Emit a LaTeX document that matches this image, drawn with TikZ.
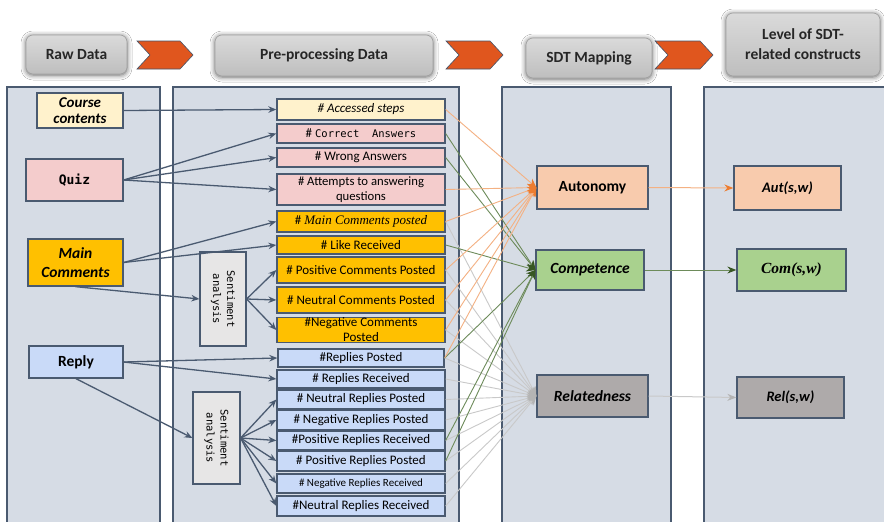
\documentclass[tikz,border=0pt]{standalone}
\usepackage{fontspec}
\setmainfont{Carlito}
\newfontfamily\monofont{DejaVu Sans Mono}
\newfontfamily\timesfont{Liberation Serif}
\usetikzlibrary{arrows.meta,shadows.blur}
\definecolor{panelfill}{HTML}{D6DCE5}
\definecolor{border}{HTML}{4A5A70}
\definecolor{hdrtop}{HTML}{DADADA}
\definecolor{hdrbot}{HTML}{BEBEBE}
\definecolor{hdrborder}{HTML}{A0A0A0}
\definecolor{chevfill}{HTML}{E0561E}
\definecolor{chevborder}{HTML}{44546A}
\definecolor{cream}{HTML}{FFF2CC}
\definecolor{pinkq}{HTML}{F4CCCC}
\definecolor{amber}{HTML}{FFC000}
\definecolor{lblue}{HTML}{C9DAF8}
\definecolor{sentfill}{HTML}{E7E6E6}
\definecolor{autfill}{HTML}{F8CBAD}
\definecolor{comfill}{HTML}{A9D18E}
\definecolor{relfill}{HTML}{AEAAAA}
\definecolor{oline}{HTML}{F4B183}
\definecolor{otip}{HTML}{ED7D31}
\definecolor{gline}{HTML}{6D8B5A}
\definecolor{gtip}{HTML}{385723}
\definecolor{rline}{HTML}{C9C9C9}
\definecolor{rtip}{HTML}{B4B4B4}
\begin{document}
\begin{tikzpicture}[x=1pt,y=-1pt,
  hdr/.style={draw=hdrborder, line width=0.6pt, rounded corners=7pt, top color=hdrtop, bottom color=hdrbot,
    font=\fontsize{15.5}{20}\selectfont\bfseries, text=black!85, align=center, inner sep=0pt,
    blur shadow={shadow xshift=0pt, shadow yshift=-1pt, shadow blur radius=5pt, shadow opacity=65}},
  chevron/.style={fill=chevfill, draw=chevborder, line width=0.6pt},
  panel/.style={fill=panelfill, draw=border, line width=1.2pt},
  bx/.style={draw=border, line width=1.3pt, inner sep=0pt, align=center, text=black},
  mid/.style={bx, minimum width=168pt, font=\fontsize{13}{14}\selectfont},
  lft/.style={bx, font=\fontsize{15.5}{17}\selectfont\bfseries},
  con/.style={bx, font=\fontsize{15.5}{17}\selectfont\bfseries},
  sbox/.style={bx, fill=sentfill, line width=1.2pt},
  stext/.style={rotate=-90, align=center, font=\monofont\fontsize{10.5}{14}\selectfont},
  feed/.style={draw=border, line width=1.3pt, -{Stealth[length=8pt,width=6.5pt]}},
  mapo/.style={draw=oline, line width=0.9pt, -{Stealth[length=9pt,width=8pt,color=otip]}},
  mapg/.style={draw=gline, line width=0.9pt, -{Stealth[length=9pt,width=8pt,color=gtip]}},
  mapr/.style={draw=rline, line width=0.9pt, -{Stealth[length=9pt,width=8pt,color=rtip]}},
  reso/.style={draw=oline, line width=1pt, -{Stealth[length=9pt,width=7pt,color=otip]}},
  resg/.style={draw=gline, line width=1pt, -{Stealth[length=9pt,width=7pt,color=gtip]}},
  resr/.style={draw=rline, line width=1pt, -{Stealth[length=9pt,width=7pt,color=rtip]}}
]
\fill[white] (0,0) rectangle (884,522);
\useasboundingbox (0,0) rectangle (884,522);

% header row
\node[hdr, minimum width=101pt, minimum height=39pt] (h1) at (76.5,54.5) {Raw Data};
\node[hdr, minimum width=218pt, minimum height=41pt] (h2) at (324,55.5) {Pre-processing Data};
\node[hdr, minimum width=126pt, minimum height=40pt] (h3) at (589,58) {SDT Mapping};
\node[hdr, minimum width=154pt, minimum height=63pt] (h4) at (803,44.5) {Level of SDT-\\related constructs};
\draw[chevron] (137,41) -- (180,41) -- (193,55) -- (180,69) -- (137,69) -- (150,55) -- cycle;
\draw[chevron] (446,41) -- (490,41) -- (503,55) -- (490,69) -- (446,69) -- (459,55) -- cycle;
\draw[chevron] (655,41) -- (700,41) -- (713,55) -- (700,69) -- (655,69) -- (668,55) -- cycle;

% panels
\draw[panel] (7,87) rectangle (160,530);
\draw[panel] (173,87) rectangle (459,530);
\draw[panel] (502,87) rectangle (671,530);
\draw[panel] (704,87) rectangle (900,530);

% raw data
\node[lft, fill=cream, minimum width=86pt, minimum height=35pt, font=\fontsize{15}{16.5}\selectfont\bfseries\itshape] (cc) at (80,110.5) {Course\\contents};
\node[lft, fill=pinkq, minimum width=97pt, minimum height=42pt, font=\monofont\fontsize{13}{15}\selectfont\bfseries] (quiz) at (74.5,180) {Quiz};
\node[lft, fill=amber, minimum width=95pt, minimum height=47pt, font=\fontsize{15.5}{19}\selectfont\bfseries\itshape] (mc) at (75.5,262.5) {Main\\Comments};
\node[lft, fill=lblue, minimum width=94pt, minimum height=32pt] (rep) at (76,362) {Reply};

% pre-processing
\node[mid, fill=cream, minimum height=21pt, font=\fontsize{13}{14}\selectfont\itshape] (acc) at (361,109.5) {\# Accessed steps};
\node[mid, fill=pinkq, minimum height=19pt] (cor) at (361,133.5) {\# {\monofont\fontsize{10.5}{12}\selectfont Correct\ \ Answers}};
\node[mid, fill=pinkq, minimum height=19pt] (wro) at (361,157.5) {\# Wrong Answers};
\node[mid, fill=pinkq, minimum height=31pt, font=\fontsize{12.7}{14.5}\selectfont] (att) at (361,189.5) {\# Attempts to answering\\questions};
\node[mid, fill=amber, minimum height=21pt] (mcp) at (361,221.5) {\# {\timesfont\itshape\fontsize{13}{14}\selectfont Main Comments posted}};
\node[mid, fill=amber, minimum height=18pt] (like) at (361,245) {\# Like Received};
\node[mid, fill=amber, minimum height=26pt] (pos) at (361,270) {\# Positive Comments Posted};
\node[mid, fill=amber, minimum height=26pt] (neu) at (361,300) {\# Neutral Comments Posted};
\node[mid, fill=amber, minimum height=25pt, font=\fontsize{13}{15}\selectfont] (neg) at (361,330) {\#Negative Comments\\Posted};
\node[mid, fill=lblue, minimum width=166pt, minimum height=18pt] (rp) at (361,358) {\#Replies Posted};
\node[mid, fill=lblue, minimum height=18pt] (rr) at (361,379) {\# Replies Received};
\node[mid, fill=lblue, minimum height=19pt] (nrp) at (361,399.5) {\# Neutral Replies Posted};
\node[mid, fill=lblue, minimum height=20pt] (ngrp) at (361,420) {\# Negative Replies Posted};
\node[mid, fill=lblue, minimum height=19pt] (prr) at (361,440.5) {\#Positive Replies Received};
\node[mid, fill=lblue, minimum height=20pt] (prp) at (361,461) {\# Positive Replies Posted};
\node[mid, fill=lblue, minimum height=19pt, font=\fontsize{11}{12}\selectfont] (ngrr) at (361,483.5) {\# Negative Replies Received};
\node[mid, fill=lblue, minimum height=20pt] (nrr) at (361,506) {\#Neutral Replies Received};

% sentiment analysis
\node[sbox, minimum width=46pt, minimum height=94pt] (s1) at (223,299) {};
\node[stext] (s1t) at (s1) {Sentiment\\analysis};
\node[sbox, minimum width=47pt, minimum height=92pt] (s2) at (216.5,438) {};
\node[stext] (s2t) at (s2) {Sentiment\\analysis};

% SDT mapping
\node[con, fill=autfill, minimum width=111pt, minimum height=43pt] (autn) at (592.5,187.5) {Autonomy};
\node[con, fill=comfill, minimum width=108pt, minimum height=40pt, font=\fontsize{15.5}{17}\selectfont\bfseries\itshape] (comp) at (590,270) {Competence};
\node[con, fill=relfill, minimum width=111pt, minimum height=42pt, font=\fontsize{15.5}{17}\selectfont\bfseries\itshape] (relt) at (592.5,396) {Relatedness};

% levels
\node[con, fill=autfill, minimum width=107pt, minimum height=44pt, font=\fontsize{14.5}{16}\selectfont\bfseries\itshape] (autv) at (787.5,188) {Aut(s,w)};
\node[con, fill=comfill, minimum width=109pt, minimum height=42pt, font=\timesfont\fontsize{15.5}{17}\selectfont\bfseries\itshape] (comv) at (791.5,270) {Com(s,w)};
\node[con, fill=relfill, minimum width=107pt, minimum height=41pt, font=\fontsize{14.5}{16}\selectfont\bfseries\itshape] (relv) at (790.5,397.5) {Rel(s,w)};

% raw -> pre-processing
\draw[feed] (cc.east) -- (acc.west);
\draw[feed] (quiz.east) -- (cor.west);
\draw[feed] (quiz.east) -- (wro.west);
\draw[feed] (quiz.east) -- (att.west);
\draw[feed] (mc.east) -- (mcp.west);
\draw[feed] (mc.east) -- (like.west);
\draw[feed] (mc.south) -- (s1.west);
\draw[feed] (s1.east) -- (pos.west);
\draw[feed] (s1.east) -- (neu.west);
\draw[feed] (s1.east) -- (neg.west);
\draw[feed] (rep.east) -- (rp.west);
\draw[feed] (rep.east) -- (rr.west);
\draw[feed] (rep.south) -- (s2.west);
\foreach \t in {nrp,ngrp,prr,prp,ngrr,nrr} \draw[feed] (s2.east) -- (\t.west);

% pre-processing -> SDT mapping
\foreach \s in {mcp,pos,neu,neg,rp,rr,nrp,ngrp,prr,prp,ngrr,nrr} \draw[mapr] (\s.east) -- (relt.west);
\foreach \s in {cor,wro,like,rp,prr,prp} \draw[mapg] (\s.east) -- (comp.west);
\foreach \s in {acc,att,mcp,pos,neu,neg,rp} \draw[mapo] (\s.east) -- (autn.west);

% SDT mapping -> levels
\draw[reso] (autn.east) -- (autv.west);
\draw[resg] (comp.east) -- (comv.west);
\draw[resr] (relt.east) -- (relv.west);
\end{tikzpicture}
\end{document}
